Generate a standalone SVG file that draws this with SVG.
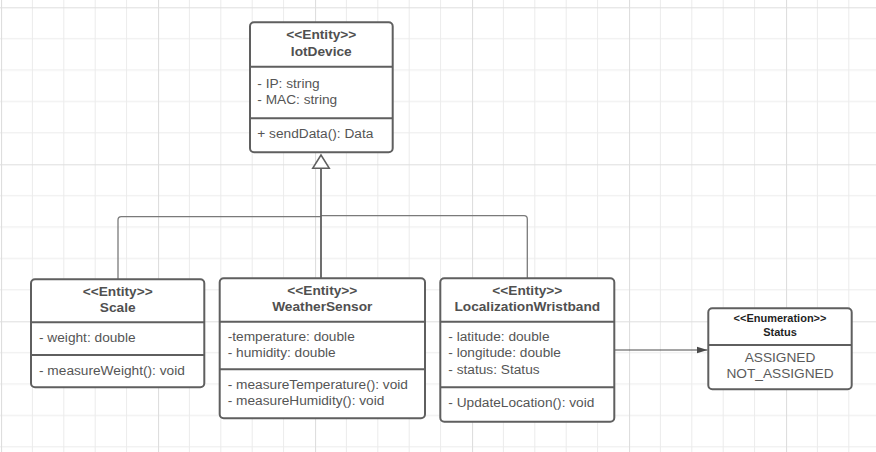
<svg xmlns="http://www.w3.org/2000/svg" width="876" height="452" viewBox="0 0 876 452">
  <defs>
    <!-- drawing-board grid: minor lines every 31.4px, a heavier line every fifth -->
    <pattern id="grid" patternUnits="userSpaceOnUse" x="1" y="7.3" width="157" height="157">
      <g stroke="#ebebeb" stroke-width="1" fill="none">
        <path d="M31.4,0V157M62.8,0V157M94.2,0V157M125.6,0V157"/>
        <path d="M0,31.4H157M0,62.8H157M0,94.2H157M0,125.6H157"/>
      </g>
      <g stroke="#dedede" stroke-width="1.2" fill="none">
        <path d="M0.5,0V157M0,0.5H157"/>
      </g>
    </pattern>
    <marker id="arrowFilled" markerWidth="12" markerHeight="8" refX="11" refY="4" orient="auto" markerUnits="userSpaceOnUse">
      <path d="M0,0.5 L11,4 L0,7.5 Z" fill="#4a4a4a"/>
    </marker>
    <style>
      .box { fill: #ffffff; stroke: #5f5f5f; stroke-width: 2; }
      .sep { stroke: #5f5f5f; stroke-width: 2; fill: none; }
      .stereo, .title { font-family: "Liberation Sans", Arial, sans-serif; font-size: 13.7px; font-weight: bold; fill: #505050; text-anchor: middle; }
      .member { font-family: "Liberation Sans", Arial, sans-serif; font-size: 13.7px; fill: #555555; }
      .enumHead { font-family: "Liberation Sans", Arial, sans-serif; font-size: 11px; font-weight: bold; fill: #1f1f1f; text-anchor: middle; }
      .literal { font-family: "Liberation Sans", Arial, sans-serif; font-size: 13.7px; fill: #5a5a5a; text-anchor: middle; }
      .link { fill: none; stroke: #7a7a7a; stroke-width: 1.3; }
      .trunk { fill: none; stroke: #5f5f5f; stroke-width: 1.8; }
    </style>
  </defs>

  <rect x="0" y="0" width="876" height="452" fill="#ffffff"/>
  <rect x="0" y="0" width="876" height="452" fill="url(#grid)"/>

  <!-- connectors -->
  <g id="connectors">
    <path class="link" d="M118,279 V220 Q118,216.7 121.3,216.7 H321"/>
    <path class="link" d="M527.3,279 V219 Q527.3,215.7 524,215.7 H321"/>
    <path class="trunk" d="M321,278 V168.3"/>
    <path d="M321,155 L312.7,168.3 L329.3,168.3 Z" fill="#ffffff" stroke="#5f5f5f" stroke-width="1.5" stroke-linejoin="miter"/>
    <path d="M615,350 H707.5" fill="none" stroke="#4a4a4a" stroke-width="1" marker-end="url(#arrowFilled)"/>
  </g>

  <!-- IotDevice -->
  <g id="iotDevice">
    <rect class="box" x="250" y="22.3" width="142.7" height="130" rx="4"/>
    <path class="sep" d="M250,66.7 H392.7 M250,118.3 H392.7"/>
    <text class="stereo" x="321.3" y="39">&lt;&lt;Entity&gt;&gt;</text>
    <text class="title" x="321.3" y="55.5">IotDevice</text>
    <text class="member" x="257.3" y="87.7">- IP: string</text>
    <text class="member" x="257.3" y="103.5">- MAC: string</text>
    <text class="member" x="257.3" y="138.3">+ sendData(): Data</text>
  </g>

  <!-- Scale -->
  <g id="scale">
    <rect class="box" x="31" y="279.3" width="173.3" height="108" rx="4"/>
    <path class="sep" d="M31,322.3 H204.3 M31,355 H204.3"/>
    <text class="stereo" x="117.7" y="295.5">&lt;&lt;Entity&gt;&gt;</text>
    <text class="title" x="117.7" y="312">Scale</text>
    <text class="member" x="39" y="342">- weight: double</text>
    <text class="member" x="39" y="374.5">- measureWeight(): void</text>
  </g>

  <!-- WeatherSensor -->
  <g id="weatherSensor">
    <rect class="box" x="219.7" y="278.3" width="205.3" height="140" rx="4"/>
    <path class="sep" d="M219.7,321.7 H425 M219.7,369.3 H425"/>
    <text class="stereo" x="322.3" y="294.5">&lt;&lt;Entity&gt;&gt;</text>
    <text class="title" x="322.3" y="311">WeatherSensor</text>
    <text class="member" x="227.7" y="340.5">-temperature: double</text>
    <text class="member" x="227.7" y="356.5">- humidity: double</text>
    <text class="member" x="227.7" y="388.5">- measureTemperature(): void</text>
    <text class="member" x="227.7" y="404.5">- measureHumidity(): void</text>
  </g>

  <!-- LocalizationWristband -->
  <g id="localizationWristband">
    <rect class="box" x="440.3" y="278.3" width="174" height="143.4" rx="4"/>
    <path class="sep" d="M440.3,321.7 H614.3 M440.3,387.3 H614.3"/>
    <text class="stereo" x="527.3" y="295">&lt;&lt;Entity&gt;&gt;</text>
    <text class="title" x="527.3" y="311">LocalizationWristband</text>
    <text class="member" x="448.3" y="341">- latitude: double</text>
    <text class="member" x="448.3" y="357">- longitude: double</text>
    <text class="member" x="448.3" y="373.5">- status: Status</text>
    <text class="member" x="448.3" y="407">- UpdateLocation(): void</text>
  </g>

  <!-- Status enumeration -->
  <g id="statusEnum">
    <rect class="box" x="708.3" y="308.3" width="143.4" height="81" rx="4"/>
    <path class="sep" d="M708.3,345 H851.7"/>
    <text class="enumHead" x="780" y="322">&lt;&lt;Enumeration&gt;&gt;</text>
    <text class="enumHead" x="780" y="335.5">Status</text>
    <text class="literal" x="780" y="362">ASSIGNED</text>
    <text class="literal" x="780" y="377.7">NOT_ASSIGNED</text>
  </g>
</svg>
